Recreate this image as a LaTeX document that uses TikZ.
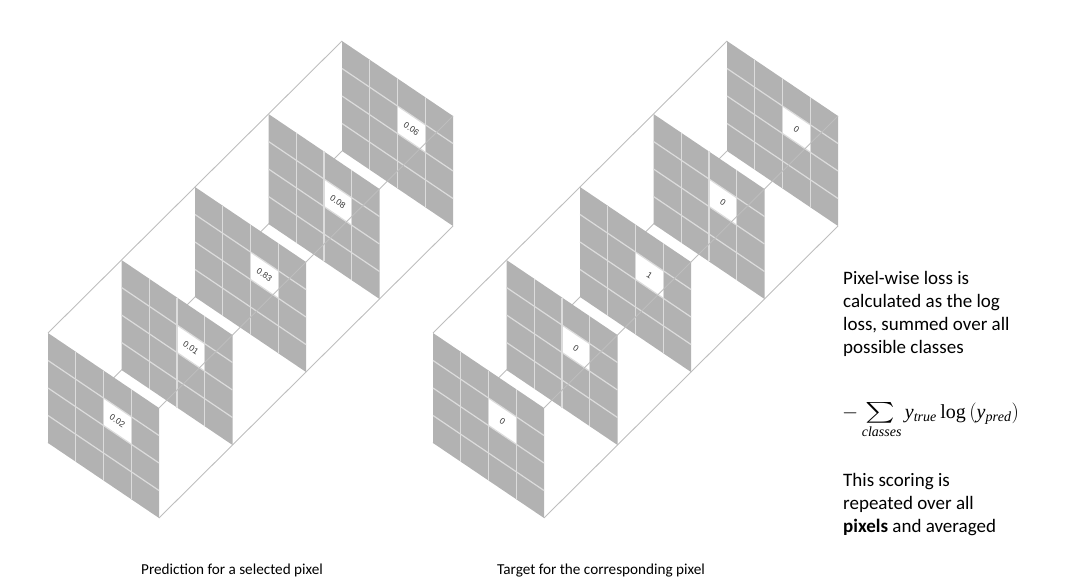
\documentclass[tikz,border=0pt]{standalone}
\usepackage{amsmath}
\usepackage{graphicx}
\usepackage{fontspec}
\setmainfont{Carlito}
\setmathrm{Liberation Serif}
\newfontfamily\cellfont{Liberation Sans}
\definecolor{facegray}{HTML}{B2B2B2}
\definecolor{gridgray}{HTML}{DCDCDC}
\definecolor{boxgray}{HTML}{BEBEBE}
\tikzset{
  gridline/.style={draw=gridgray, line width=1.2pt},
  boxline/.style={draw=boxgray, line width=0.9pt},
  celltext/.style={font=\cellfont\fontsize{8.5}{9}\selectfont, rotate=-34.2, inner sep=0pt, text=black!80},
  bodytext/.style={font=\fontsize{19}{22}\selectfont, anchor=base west, inner sep=0pt},
  captext/.style={font=\fontsize{15.2}{17}\selectfont, anchor=base west, inner sep=0pt},
}
\newcommand{\drawpanel}[3]{%
  \begin{scope}[shift={(#1TL#2)}, x={(111pt,-75pt)}, y={(0pt,-110pt)}]
    \fill[facegray] (0,0) -- (1,0) -- (1,1) -- (0,1) -- cycle;
    \fill[white] (0.5,0.25) -- (0.75,0.25) -- (0.75,0.5) -- (0.5,0.5) -- cycle;
    \foreach \g in {0.25,0.5,0.75}{\draw[gridline] (\g,0) -- (\g,1); \draw[gridline] (0,\g) -- (1,\g);}
    \node[celltext] (#1lab#2) at (0.625,0.375) {#3};
  \end{scope}}
\newcommand{\linkpanels}[3]{%
  \draw[boxline] (#1TL#2) -- (#1TL#3);
  \draw[boxline] (#1TR#2) -- (#1TR#3);
  \draw[boxline] (#1BL#2) -- (#1BL#3);
  \draw[boxline] (#1BR#2) -- (#1BR#3);}
\newcommand{\slicestack}[7]{%
  \foreach \k in {0,...,4}{%
    \pgfmathsetmacro\px{#2+73.5*\k}%
    \pgfmathsetmacro\py{333-73*\k}%
    \coordinate (#1TL\k) at (\px,\py);
    \coordinate (#1TR\k) at (\px+111,\py+75);
    \coordinate (#1BL\k) at (\px,\py+110);
    \coordinate (#1BR\k) at (\px+111,\py+185);
  }
  \drawpanel{#1}{4}{#7}
  \linkpanels{#1}{4}{3}\drawpanel{#1}{3}{#6}
  \linkpanels{#1}{3}{2}\drawpanel{#1}{2}{#5}
  \linkpanels{#1}{2}{1}\drawpanel{#1}{1}{#4}
  \linkpanels{#1}{1}{0}\drawpanel{#1}{0}{#3}
}
\begin{document}
\begin{tikzpicture}[x=1pt,y=-1pt]
\useasboundingbox (0,0) rectangle (1081,585);
\slicestack{L}{48}{0.02}{0.01}{0.83}{0.08}{0.06}
\slicestack{R}{433}{0}{0}{1}{0}{0}

\node[bodytext] (t1) at (843,284) {Pixel-wise loss is};
\node[bodytext] (t2) at (843,307) {calculated as the log};
\node[bodytext] (t3) at (843,330) {loss, summed over all};
\node[bodytext] (t4) at (843,353) {possible classes};
\node[anchor=base west, inner sep=0pt, font=\fontsize{20}{22}\selectfont] (formula) at (842,418)
  {$-\mathop{\scalebox{1.35}[1.0]{$\textstyle\sum$}}\limits_{\mathit{classes}} \mathit{y}_{\mathit{true}}\log\left(\mathit{y}_{\mathit{pred}}\right)$};
\node[bodytext] (t5) at (843,486) {This scoring is};
\node[bodytext] (t6) at (843,509) {repeated over all};
\node[bodytext] (t7) at (843,532) {\textbf{pixels} and averaged};

\node[captext] (cap1) at (141,574) {Prediction for a selected pixel};
\node[captext] (cap2) at (497,574) {Target for the corresponding pixel};
\end{tikzpicture}
\end{document}
